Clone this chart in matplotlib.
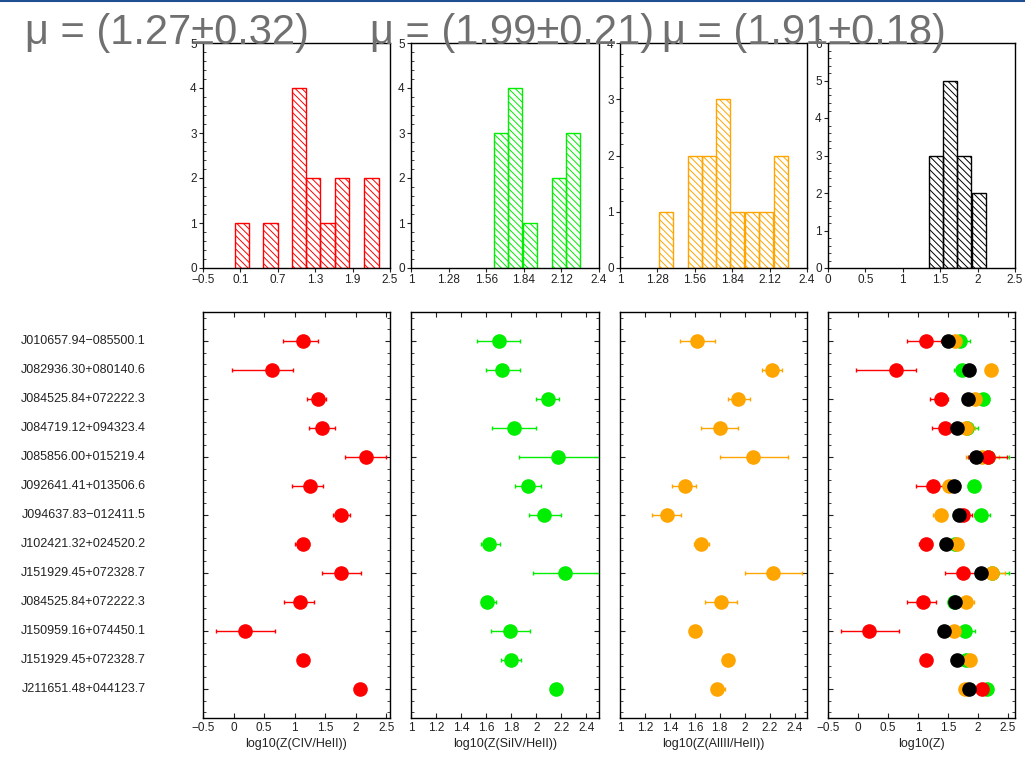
import numpy as np
import matplotlib
matplotlib.use("Agg")
import matplotlib.pyplot as plt
from matplotlib.ticker import FixedLocator, MultipleLocator, FuncFormatter
from matplotlib.lines import Line2D

plt.rcParams['font.family'] = ['Liberation Sans', 'DejaVu Sans']
plt.rcParams['hatch.linewidth'] = 0.7
plt.rcParams['axes.linewidth'] = 1.0

# ---- objects ----
names = [
    "J010657.94\u2212085500.1",
    "J082936.30+080140.6",
    "J084525.84+072222.3",
    "J084719.12+094323.4",
    "J085856.00+015219.4",
    "J092641.41+013506.6",
    "J094637.83\u2212012411.5",
    "J102421.32+024520.2",
    "J151929.45+072328.7",
    "J084525.84+072222.3",
    "J150959.16+074450.1",
    "J151929.45+072328.7",
    "J211651.48+044123.7",
]

# ---- log10(Z) from CIV/HeII ----
civ = [1.13, 0.63, 1.38, 1.45, 2.17, 1.25, 1.76, 1.13, 1.76, 1.09, 0.19, 1.14, 2.07]
civ_lo = [0.32, 0.66, 0.18, 0.22, 0.34, 0.29, 0.14, 0.12, 0.31, 0.27, 0.48, 0.0, 0.0]
civ_hi = [0.25, 0.34, 0.13, 0.21, 0.32, 0.22, 0.14, 0.10, 0.32, 0.22, 0.49, 0.0, 0.0]

# ---- log10(Z) from SiIV/HeII ----
siiv = [1.70, 1.73, 2.09, 1.82, 2.17, 1.93, 2.06, 1.62, 2.23, 1.61, 1.79, 1.80, 2.16]
siiv_lo = [0.17, 0.13, 0.09, 0.17, 0.31, 0.10, 0.12, 0.06, 0.26, 0.04, 0.15, 0.08, 0.0]
siiv_hi = [0.17, 0.14, 0.09, 0.18, 0.35, 0.11, 0.14, 0.09, 0.29, 0.07, 0.16, 0.08, 0.0]

# ---- log10(Z) from AlIII/HeII ----
aliii = [1.62, 2.22, 1.95, 1.80, 2.07, 1.52, 1.38, 1.65, 2.23, 1.81, 1.60, 1.87, 1.78]
aliii_lo = [0.14, 0.08, 0.08, 0.15, 0.27, 0.10, 0.12, 0.06, 0.23, 0.13, 0.04, 0.03, 0.04]
aliii_hi = [0.14, 0.08, 0.09, 0.15, 0.28, 0.09, 0.11, 0.06, 0.23, 0.13, 0.04, 0.03, 0.06]

# ---- combined log10(Z) ----
zmean = [1.50, 1.86, 1.84, 1.65, 1.97, 1.61, 1.69, 1.47, 2.05, 1.62, 1.44, 1.65, 1.86]

# ---- histograms (bin left edges, bin width, counts) ----
civ_bins = [0.01, 0.47, 0.93, 1.155, 1.385, 1.615, 2.09]
civ_width = 0.228
civ_counts = [1, 1, 4, 2, 1, 2, 2]

siiv_bins = [1.62, 1.722, 1.836, 2.052, 2.154]
siiv_width = 0.102
siiv_counts = [3, 4, 1, 2, 3]

aliii_bins = [1.292, 1.509, 1.614, 1.721, 1.826, 1.933, 2.04, 2.155]
aliii_width = 0.105
aliii_counts = [1, 2, 2, 3, 1, 1, 1, 2]

zmean_bins = [1.354, 1.541, 1.725, 1.921]
zmean_width = 0.188
zmean_counts = [3, 5, 3, 2]

titles = ["\u03bc = (1.27\u00b10.32)", "\u03bc = (1.99\u00b10.21)", "\u03bc = (1.91\u00b10.18)"]
xlabels = ["log10(Z(CIV/HeII))", "log10(Z(SiIV/HeII))", "log10(Z(AlIII/HeII))", "log10(Z)"]

RED, GREEN, ORANGE, BLACK = "#ff0000", "#00ee00", "#ffa500", "#000000"

W, H = 1025, 759
fig = plt.figure(figsize=(W / 100, H / 100), dpi=100)


def px_axes(x0, x1, y0, y1):
    return fig.add_axes([x0 / W, 1 - y1 / H, (x1 - x0) / W, (y1 - y0) / H])


fmt = FuncFormatter(lambda v, p: ("%g" % round(v, 4)).replace("-", "\u2212"))

cols = [(203, 390), (411, 599), (620, 807), (828, 1015)]
tick_col = "#222222"

# ---- top row: histograms ----
hist_specs = [
    (civ_bins, civ_width, civ_counts, RED, (-0.5, 2.5), [-0.5, 0.1, 0.7, 1.3, 1.9, 2.5], 5),
    (siiv_bins, siiv_width, siiv_counts, GREEN, (1, 2.4), [1, 1.28, 1.56, 1.84, 2.12, 2.4], 5),
    (aliii_bins, aliii_width, aliii_counts, ORANGE, (1, 2.4), [1, 1.28, 1.56, 1.84, 2.12, 2.4], 4),
    (zmean_bins, zmean_width, zmean_counts, BLACK, (0, 2.5), [0, 0.5, 1, 1.5, 2, 2.5], 6),
]
for (x0, x1), (bins, width, counts, col, xl, xt, ymax) in zip(cols, hist_specs):
    ax = px_axes(x0, x1, 43, 268)
    ax.bar(bins, counts, width=width, align="edge", fill=False,
           edgecolor=col, linewidth=1.0, hatch="\\" * 5)
    ax.set_xlim(*xl)
    ax.set_ylim(0, ymax)
    ax.xaxis.set_major_locator(FixedLocator(xt))
    ax.xaxis.set_major_formatter(fmt)
    ax.yaxis.set_major_locator(MultipleLocator(1))
    ax.yaxis.set_minor_locator(MultipleLocator(0.2))
    ax.tick_params(which="major", direction="out", length=3, width=0.8,
                   labelsize=8.5, colors=tick_col, pad=1.5)
    ax.tick_params(which="minor", direction="in", length=2, width=0.6, colors=tick_col)
    ax.tick_params(axis="x", which="minor", bottom=False)

# ---- bottom row: per-object values ----
rows = np.arange(1, len(names) + 1)
series = [
    [(civ, civ_lo, civ_hi, RED)],
    [(siiv, siiv_lo, siiv_hi, GREEN)],
    [(aliii, aliii_lo, aliii_hi, ORANGE)],
    [(siiv, siiv_lo, siiv_hi, GREEN), (aliii, aliii_lo, aliii_hi, ORANGE),
     (civ, civ_lo, civ_hi, RED), (zmean, None, None, BLACK)],
]
xlims = [(-0.5, 2.56), (1, 2.5), (1, 2.5), (-0.5, 2.62)]
xsteps = [0.5, 0.2, 0.2, 0.5]

for i, ((x0, x1), group, xl, step, lab) in enumerate(zip(cols, series, xlims, xsteps, xlabels)):
    ax = px_axes(x0, x1, 312, 718)
    for vals, lo, hi, col in group:
        if lo is None:
            ax.plot(vals, rows, "o", color=col, ms=9.5, mec=col, zorder=5)
        else:
            ax.errorbar(vals, rows, xerr=[lo, hi], fmt="o", color=col, ms=9.5,
                        mec=col, ecolor=col, elinewidth=1.0, capsize=1.5,
                        capthick=1.0, zorder=3)
    ax.set_xlim(*xl)
    ax.set_ylim(len(names) + 1, 0)
    ax.xaxis.set_major_locator(MultipleLocator(step))
    ax.xaxis.set_major_formatter(fmt)
    ax.yaxis.set_major_locator(FixedLocator(np.arange(1, 14, 2)))
    ax.yaxis.set_minor_locator(FixedLocator(np.arange(0.2, 14, 0.4)))
    ax.tick_params(which="both", direction="in", top=True, right=True,
                   labelleft=False, colors=tick_col)
    ax.tick_params(which="major", length=3.5, width=0.8, labelsize=8.5, pad=3)
    ax.tick_params(which="minor", length=2, width=0.6)
    ax.set_xlabel(lab, fontsize=9, labelpad=3, color=tick_col)
    if i == 0:
        for r, name in zip(rows, names):
            ax.text(-0.305, r, name, transform=ax.get_yaxis_transform(),
                    ha="right", va="center", fontsize=9, color=tick_col)

# ---- summary means ----
for xpix, t in zip([25, 370, 662], titles):
    fig.text(xpix / W, 1 - 33 / H, t, ha="left", va="center",
             fontsize=30, color="#707070")

# header rule
fig.add_artist(Line2D([0, 1], [1 - 1 / H, 1 - 1 / H], color="#1d4f91",
                      linewidth=1.5, transform=fig.transFigure))

fig.savefig("out.png", dpi=100)
